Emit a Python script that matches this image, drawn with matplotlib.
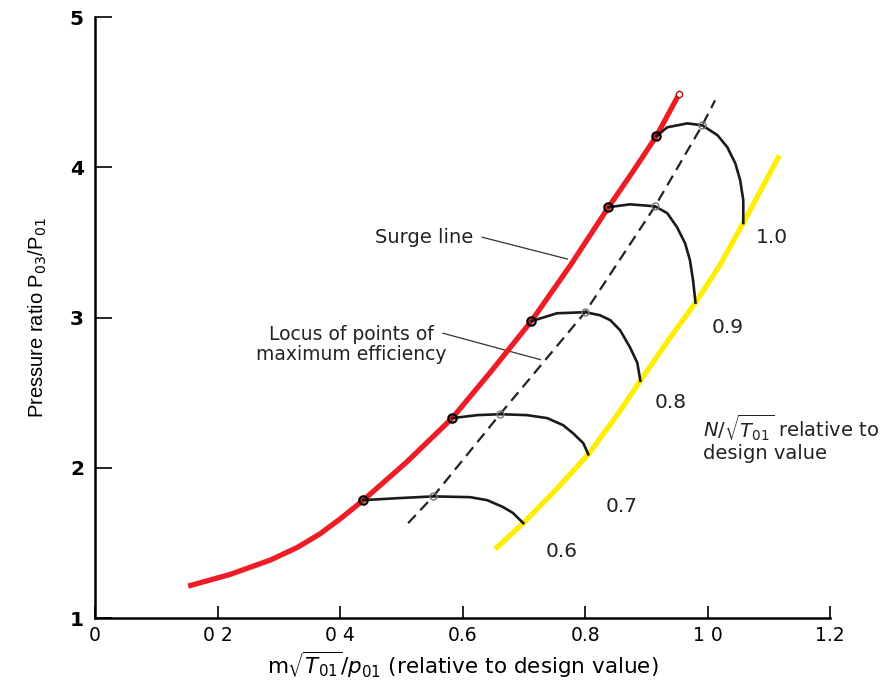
import matplotlib
matplotlib.use("Agg")
import matplotlib.pyplot as plt
from matplotlib import font_manager

names = {f.name for f in font_manager.fontManager.ttflist}
narrow = 'Liberation Sans Narrow' if 'Liberation Sans Narrow' in names else 'Liberation Sans'

plt.rcParams['font.family'] = ['DejaVu Sans']
plt.rcParams['mathtext.fontset'] = 'dejavusans'

# surge line (red)
surge_x = [0.152, 0.220, 0.286, 0.330, 0.367, 0.400, 0.438, 0.509, 0.583,
           0.648, 0.712, 0.776, 0.838, 0.877, 0.916, 0.953]
surge_y = [1.213, 1.290, 1.386, 1.470, 1.560, 1.660, 1.785, 2.040, 2.331,
           2.650, 2.976, 3.349, 3.735, 3.967, 4.207, 4.486]

# locus of maximum efficiency (dashed)
eff_x = [0.511, 0.552, 0.661, 0.800, 0.914, 0.991, 1.012]
eff_y = [1.632, 1.810, 2.357, 3.036, 3.741, 4.280, 4.446]

# choke line (yellow)
choke_x = [0.653, 0.699, 0.754, 0.805, 0.852, 0.890, 0.934, 0.980, 1.020, 1.058, 1.117]
choke_y = [1.459, 1.632, 1.862, 2.090, 2.350, 2.580, 2.840, 3.100, 3.350, 3.630, 4.080]

# constant speed lines
speeds = ['0.6', '0.7', '0.8', '0.9', '1.0']
speed_x = {
    '0.6': [0.438, 0.493, 0.552, 0.612, 0.640, 0.666, 0.682, 0.699],
    '0.7': [0.583, 0.624, 0.661, 0.705, 0.738, 0.764, 0.780, 0.797, 0.805],
    '0.8': [0.712, 0.754, 0.800, 0.824, 0.841, 0.857, 0.873, 0.885, 0.890],
    '0.9': [0.838, 0.873, 0.914, 0.934, 0.950, 0.963, 0.971, 0.976, 0.980],
    '1.0': [0.916, 0.934, 0.967, 0.991, 1.016, 1.032, 1.045, 1.053, 1.058, 1.058],
}
speed_y = {
    '0.6': [1.785, 1.798, 1.810, 1.805, 1.785, 1.739, 1.700, 1.632],
    '0.7': [2.331, 2.351, 2.357, 2.351, 2.331, 2.284, 2.231, 2.164, 2.090],
    '0.8': [2.976, 3.029, 3.036, 3.016, 2.983, 2.916, 2.803, 2.700, 2.580],
    '0.9': [3.735, 3.754, 3.741, 3.695, 3.601, 3.495, 3.382, 3.249, 3.100],
    '1.0': [4.207, 4.267, 4.293, 4.280, 4.214, 4.134, 4.027, 3.914, 3.781, 3.630],
}
label_pos = {'0.6': (0.762, 1.44), '0.7': (0.860, 1.745), '0.8': (0.939, 2.437),
             '0.9': (1.033, 2.936), '1.0': (1.105, 3.535)}

xticks = [0, 0.2, 0.4, 0.6, 0.8, 1.0, 1.2]
xticklabels = ['0', '0 2', '0 4', '0.6', '0.8', '1 0', '1.2']
yticks = [1, 2, 3, 4, 5]

fig = plt.figure(figsize=(8.88, 6.86), dpi=100)
ax = fig.add_axes([0.107, 0.099, 0.828, 0.876])

ax.plot(surge_x, surge_y, color='#ee1c25', lw=3.8, solid_capstyle='butt', zorder=3)
ax.plot(choke_x, choke_y, color='#ffee00', lw=3.8, solid_capstyle='butt', zorder=3)
ax.plot(eff_x, eff_y, color='#222222', lw=1.6, ls=(0, (5, 3)), zorder=2)

for s in speeds:
    ax.plot(speed_x[s], speed_y[s], color='#1a1a1a', lw=1.9, zorder=4,
            solid_joinstyle='round')
    ax.plot(speed_x[s][0], speed_y[s][0], 'o', ms=6, mfc='none', mec='black', mew=1.6, zorder=5)
    ax.text(*label_pos[s], s, fontsize=14.5, ha='center', va='center', color='#222222')

ax.plot(eff_x[1:-1], eff_y[1:-1], 'o', ms=5, mfc='none', mec='#777777', mew=1.0, zorder=5)
ax.plot(surge_x[-1], surge_y[-1], 'o', ms=4.5, mfc='white', mec='#aa1111', mew=1.0, zorder=5)

ax.text(0.617, 3.53, 'Surge line', fontsize=14, ha='right', va='center', color='#222222')
ax.plot([0.632, 0.771], [3.535, 3.39], color='#333333', lw=0.9)
ax.text(0.418, 2.82, 'Locus of points of\nmaximum efficiency', fontsize=13.5, ha='center',
        va='center', multialignment='center', color='#222222', linespacing=1.1)
ax.plot([0.568, 0.727], [2.896, 2.72], color='#333333', lw=0.9)
ax.text(0.993, 2.204, '$N/\\sqrt{T_{01}}$ relative to\ndesign value', fontsize=14,
        ha='left', va='center', color='#222222', linespacing=1.05)

ax.set_xlim(0, 1.2)
ax.set_ylim(1, 5)
ax.set_xticks(xticks)
ax.set_xticklabels(xticklabels)
ax.set_yticks(yticks)
ax.tick_params(axis='x', direction='in', length=9, width=1.2, labelsize=13.5, pad=6)
ax.tick_params(axis='y', direction='in', length=12, width=1.2, labelsize=14.5, pad=8)
for lab in ax.get_yticklabels():
    lab.set_fontweight('bold')
ax.spines['top'].set_visible(False)
ax.spines['right'].set_visible(False)
ax.spines['left'].set_linewidth(1.8)
ax.spines['bottom'].set_linewidth(1.8)

ax.set_xlabel('m$\\sqrt{T_{01}}/p_{01}$ (relative to design value)', fontsize=15.5, labelpad=3)
ax.set_ylabel('Pressure ratio P$_{03}$/P$_{01}$', fontsize=14.5, family=narrow, labelpad=15)

fig.savefig('out.png', dpi=100)
